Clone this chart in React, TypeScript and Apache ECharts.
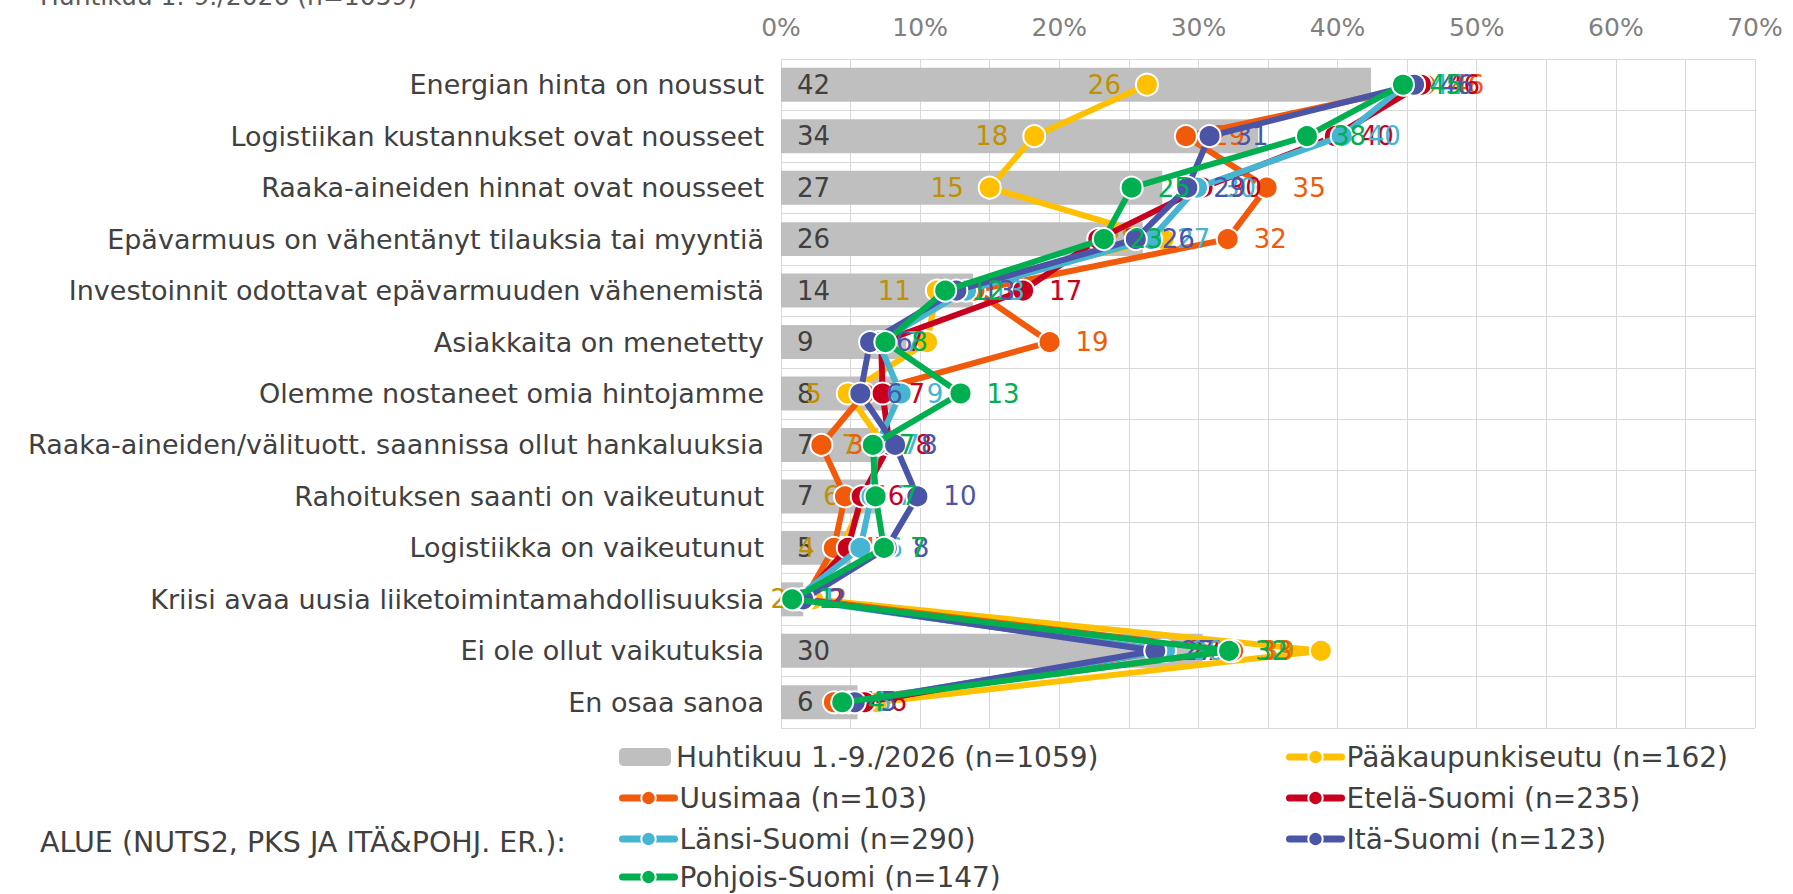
import React, { useEffect, useRef } from "react";
import * as echarts from "echarts";

const categories = [
  "Energian hinta on noussut",
  "Logistiikan kustannukset ovat nousseet",
  "Raaka-aineiden hinnat ovat nousseet",
  "Epävarmuus on vähentänyt tilauksia tai myyntiä",
  "Investoinnit odottavat epävarmuuden vähenemistä",
  "Asiakkaita on menetetty",
  "Olemme nostaneet omia hintojamme",
  "Raaka-aineiden/välituott. saannissa ollut hankaluuksia",
  "Rahoituksen saanti on vaikeutunut",
  "Logistiikka on vaikeutunut",
  "Kriisi avaa uusia liiketoimintamahdollisuuksia",
  "Ei ole ollut vaikutuksia",
  "En osaa sanoa",
];

const totalName = "Huhtikuu 1.-9./2026 (n=1059)";
const total = [42.4, 34.3, 27.4, 26.0, 13.8, 9.0, 8.0, 7.0, 7.0, 5.0, 1.6, 30.3, 5.5];

const pks = [26.3, 18.2, 15.0, 27.5, 11.2, 10.5, 4.8, 7.4, 6.1, 4.3, 2.3, 38.8, 6.9];
const uusimaa = [46.3, 29.1, 34.9, 32.1, 13.9, 19.3, 6.0, 2.9, 4.6, 3.8, 1.7, 32.5, 3.8];
const etela = [46.0, 39.8, 30.3, 22.8, 17.4, 7.2, 7.3, 7.8, 5.8, 4.8, 1.5, 27.4, 6.0];
const lansi = [44.9, 40.3, 29.9, 26.6, 13.3, 7.0, 8.6, 6.9, 6.5, 5.7, 1.0, 27.6, 4.9];
const ita = [45.5, 30.8, 29.2, 25.5, 12.6, 6.4, 5.7, 8.2, 9.8, 7.6, 1.6, 26.9, 5.3];
const pohjois = [44.7, 37.8, 25.2, 23.2, 11.8, 7.5, 12.9, 6.6, 6.8, 7.4, 0.8, 32.2, 4.4];

const lineSeries = [
  { name: "Pääkaupunkiseutu (n=162)", data: pks, color: "#FFC000", labelColor: "#BF9000", pos: "left" },
  { name: "Uusimaa (n=103)", data: uusimaa, color: "#F05A0A", labelColor: "#F05A0A", pos: "right" },
  { name: "Etelä-Suomi (n=235)", data: etela, color: "#C8001E", labelColor: "#C8001E", pos: "right" },
  { name: "Länsi-Suomi (n=290)", data: lansi, color: "#45B5D2", labelColor: "#45B5D2", pos: "right" },
  { name: "Itä-Suomi (n=123)", data: ita, color: "#4B55A8", labelColor: "#4B55A8", pos: "right" },
  { name: "Pohjois-Suomi (n=147)", data: pohjois, color: "#00B050", labelColor: "#00B050", pos: "right" },
];

// legend layout: [name, column, row]
const legendItems: [string, number, number][] = [
  [totalName, 0, 0],
  [lineSeries[0].name, 1, 0],
  [lineSeries[1].name, 0, 1],
  [lineSeries[2].name, 1, 1],
  [lineSeries[3].name, 0, 2],
  [lineSeries[4].name, 1, 2],
  [lineSeries[5].name, 0, 3],
];

const FONT = '"DejaVu Sans", Verdana, sans-serif';

export default function App() {
  const ref = useRef<HTMLDivElement>(null);
  useEffect(() => {
    if (!ref.current) return;
    const chart = echarts.init(ref.current, undefined, { renderer: "svg" });
    const legendText = { fontSize: 28, color: "#404040", fontFamily: FONT };
    const colLeft = [619, 1286];
    const rowCenter = [760, 801, 842, 880];
    chart.setOption({
      animation: false,
      textStyle: { fontFamily: FONT },
      grid: { left: 781, right: 38, top: 59, bottom: 166, containLabel: false },
      xAxis: {
        type: "value",
        position: "top",
        min: 0,
        max: 70,
        interval: 5,
        axisLine: { show: false },
        axisTick: { show: false },
        axisLabel: {
          color: "#808080",
          fontSize: 25,
          margin: 19,
          formatter: (v: number) => (v % 10 === 0 ? v + "%" : ""),
        },
        splitLine: { show: true, lineStyle: { color: "#d9d9d9", width: 1 } },
      },
      yAxis: {
        type: "category",
        inverse: true,
        data: categories,
        axisLine: { show: true, lineStyle: { color: "#d9d9d9" } },
        axisTick: { show: false },
        axisLabel: { color: "#404040", fontSize: 27, margin: 17 },
        splitLine: { show: true, lineStyle: { color: "#d9d9d9", width: 1 } },
      },
      legend: legendItems.map(([name, col, row]) => ({
        data: [name],
        orient: "horizontal",
        left: colLeft[col],
        top: rowCenter[row] - 17,
        padding: 0,
        itemWidth: 52,
        itemHeight: 18,
        textStyle: legendText,
        selectedMode: false,
        lineStyle: { width: 7, cap: "round" },
      })),
      graphic: [
        {
          type: "text",
          left: 40,
          top: -16,
          style: { text: totalName, font: `25px ${FONT}`, fill: "#595959" },
        },
        {
          type: "text",
          left: 40,
          top: 828,
          style: { text: "ALUE (NUTS2, PKS JA ITÄ&POHJ. ER.):", font: `28.5px ${FONT}`, fill: "#404040" },
        },
      ],
      series: [
        {
          type: "bar",
          name: totalName,
          data: total,
          barWidth: "66%",
          itemStyle: { color: "#bfbfbf" },
          label: {
            show: true,
            position: "insideLeft",
            distance: 16,
            color: "#404040",
            fontSize: 26,
            formatter: (p: any) => String(Math.round(p.value)),
          },
          z: 1,
        },
        ...lineSeries.map((s, i) => ({
          type: "line",
          name: s.name,
          data: s.data,
          symbol: "circle",
          symbolSize: 22,
          lineStyle: { width: 6, color: s.color },
          itemStyle: { color: s.color, borderColor: "#ffffff", borderWidth: 2 },
          label: {
            show: true,
            position: s.pos,
            distance: 14,
            color: s.labelColor,
            fontSize: 26,
            formatter: (p: any) => String(Math.round(p.value)),
          },
          z: 2 + i,
        })),
      ],
    });
    return () => chart.dispose();
  }, []);
  return (
    <div
      ref={ref}
      style={{ position: "fixed", left: 0, top: 0, width: 1793, height: 894, background: "#fff" }}
    />
  );
}
